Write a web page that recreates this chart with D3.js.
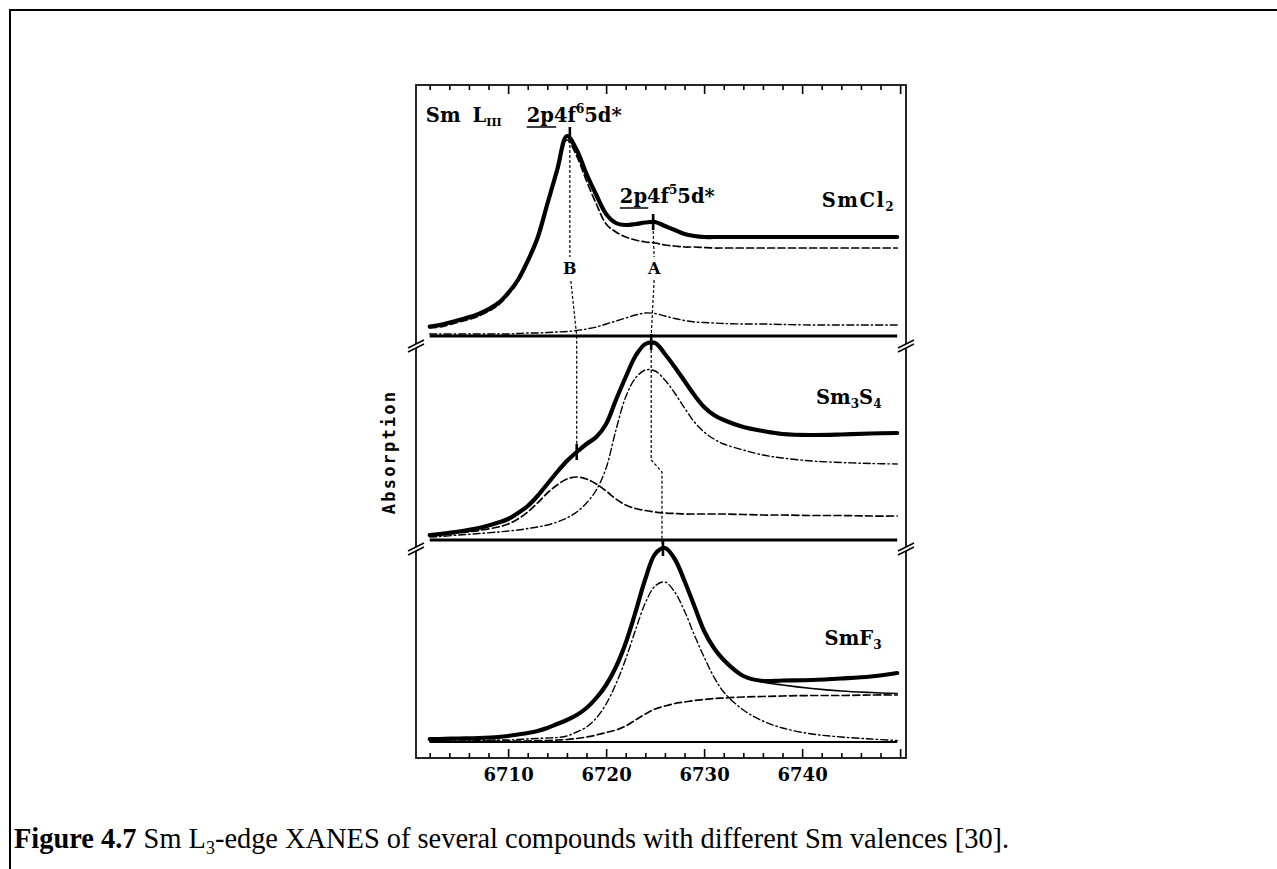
<!DOCTYPE html>
<html>
<head>
<meta charset="utf-8">
<script src="https://cdn.jsdelivr.net/npm/d3@7"></script>
<style>
  html, body { margin: 0; padding: 0; background: #fff; }
  svg { display: block; }
</style>
</head>
<body>
<svg id="fig" width="1277" height="869"></svg>
<script>
// ---- data ---------------------------------------------------------------
// photon energy grid (eV) shared by every spectrum
const energy = [6702, 6703, 6705, 6707, 6709, 6710, 6711, 6712, 6713, 6714, 6715, 6716,
  6717, 6718, 6719, 6720, 6721, 6722, 6723, 6724, 6725, 6726, 6727, 6728, 6729, 6730,
  6731, 6732, 6734, 6736, 6738, 6741, 6744, 6747, 6749.7];

const compounds = ["SmCl2", "Sm3S4", "SmF3"];

// SmCl2: measured spectrum, Sm2+ (4f6) and Sm3+ (4f5) components
const smcl2Total = [0.095, 0.11, 0.16, 0.22, 0.33, 0.43, 0.56, 0.75, 0.98, 1.32, 1.66, 2.00,
  1.86, 1.62, 1.41, 1.22, 1.13, 1.11, 1.12, 1.135, 1.14, 1.10, 1.06, 1.02, 1.00, 0.99,
  0.99, 0.99, 0.99, 0.99, 0.99, 0.99, 0.99, 0.99, 0.99];
const smcl2Sm2 = [0.08, 0.09, 0.14, 0.20, 0.31, 0.41, 0.54, 0.73, 0.96, 1.30, 1.63, 1.96,
  1.80, 1.55, 1.32, 1.12, 1.04, 0.99, 0.96, 0.94, 0.93, 0.91, 0.90, 0.89, 0.89, 0.885,
  0.88, 0.88, 0.88, 0.88, 0.88, 0.88, 0.88, 0.88, 0.88];
const smcl2Sm3 = [0.02, 0.02, 0.02, 0.02, 0.02, 0.02, 0.025, 0.03, 0.03, 0.035, 0.04, 0.045,
  0.055, 0.07, 0.09, 0.12, 0.15, 0.18, 0.21, 0.23, 0.225, 0.20, 0.175, 0.155, 0.14, 0.135,
  0.13, 0.125, 0.12, 0.12, 0.115, 0.11, 0.11, 0.11, 0.11];

// Sm3S4: mixed valence
const sm3s4Total = [0.05, 0.06, 0.085, 0.12, 0.175, 0.21, 0.27, 0.34, 0.44, 0.56, 0.68, 0.79,
  0.88, 0.96, 1.03, 1.16, 1.40, 1.63, 1.84, 1.96, 1.97, 1.86, 1.73, 1.59, 1.45, 1.33,
  1.25, 1.20, 1.13, 1.09, 1.06, 1.05, 1.055, 1.065, 1.07];
const sm3s4Sm3 = [0.03, 0.035, 0.05, 0.065, 0.08, 0.09, 0.10, 0.115, 0.13, 0.15, 0.18, 0.22,
  0.28, 0.37, 0.50, 0.72, 1.10, 1.43, 1.62, 1.70, 1.69, 1.60, 1.47, 1.32, 1.18, 1.08,
  1.01, 0.96, 0.90, 0.85, 0.82, 0.79, 0.775, 0.765, 0.76];
const sm3s4Sm2 = [0.045, 0.05, 0.07, 0.095, 0.13, 0.16, 0.21, 0.28, 0.37, 0.47, 0.55, 0.61,
  0.63, 0.61, 0.56, 0.49, 0.41, 0.35, 0.315, 0.295, 0.28, 0.27, 0.265, 0.26, 0.26, 0.26,
  0.26, 0.26, 0.255, 0.25, 0.25, 0.245, 0.245, 0.24, 0.24];

// SmF3: trivalent reference, white line + edge step, and the summed fit
const smf3Total = [0.03, 0.03, 0.035, 0.04, 0.05, 0.06, 0.075, 0.09, 0.11, 0.14, 0.18, 0.22,
  0.27, 0.34, 0.44, 0.57, 0.75, 0.99, 1.30, 1.63, 1.88, 1.94, 1.83, 1.61, 1.36, 1.11,
  0.94, 0.82, 0.66, 0.61, 0.615, 0.62, 0.635, 0.655, 0.69];
const smf3WhiteLine = [0.01, 0.01, 0.01, 0.015, 0.02, 0.02, 0.025, 0.03, 0.035, 0.04, 0.045, 0.06,
  0.10, 0.15, 0.24, 0.38, 0.58, 0.83, 1.12, 1.39, 1.56, 1.60, 1.50, 1.31, 1.07, 0.85,
  0.65, 0.50, 0.32, 0.21, 0.14, 0.08, 0.05, 0.03, 0.015];
const smf3Step = [0.005, 0.005, 0.005, 0.007, 0.01, 0.01, 0.01, 0.01, 0.012, 0.015, 0.02, 0.025,
  0.035, 0.05, 0.07, 0.095, 0.12, 0.16, 0.22, 0.28, 0.33, 0.36, 0.385, 0.40, 0.415, 0.425,
  0.435, 0.44, 0.45, 0.455, 0.46, 0.465, 0.465, 0.47, 0.47];
const smf3Fit = [0.03, 0.03, 0.035, 0.04, 0.05, 0.06, 0.075, 0.09, 0.11, 0.14, 0.18, 0.22,
  0.27, 0.34, 0.44, 0.57, 0.75, 0.99, 1.30, 1.63, 1.88, 1.94, 1.83, 1.61, 1.36, 1.11,
  0.94, 0.82, 0.66, 0.60, 0.57, 0.535, 0.51, 0.495, 0.485];

// x axis ticks (eV)
const majorTicks = [6710, 6720, 6730, 6740, 6750];
const minorTicks = [6702, 6704, 6706, 6708, 6712, 6714, 6716, 6718, 6722, 6724, 6726, 6728,
  6732, 6734, 6736, 6738, 6742, 6744, 6746, 6748];
const tickLabels = ["6710", "6720", "6730", "6740", ""];

// vertical absorption range shown in each stacked panel
const panelDomains = [[0, 2.51], [0, 2.04], [-0.16, 2.02]];

// markers placed on the spectra at the B (4f6) and A (4f5) features
const featureMarks = [
  { panel: 0, e: 6716.3, v: 2.01 },
  { panel: 0, e: 6724.8, v: 1.14 },
  { panel: 1, e: 6717.0, v: 0.88 },
  { panel: 1, e: 6724.6, v: 1.98 },
  { panel: 2, e: 6725.8, v: 1.94 }
];

// guide lines that follow the B and A features through the panels
const guideB = [
  [{ panel: 0, e: 6716.3, v: 1.96 }, { panel: 0, e: 6716.3, v: 0.79 }],
  [{ panel: 0, e: 6716.4, v: 0.55 }, { panel: 0, e: 6717.0, v: 0.0 }, { panel: 1, e: 6717.0, v: 0.95 }]
];
const guideA = [
  [{ panel: 0, e: 6724.8, v: 1.05 }, { panel: 0, e: 6724.9, v: 0.79 }],
  [{ panel: 0, e: 6724.9, v: 0.56 }, { panel: 0, e: 6724.6, v: 0.0 }, { panel: 1, e: 6724.6, v: 1.9 },
   { panel: 1, e: 6724.6, v: 0.80 }, { panel: 1, e: 6725.7, v: 0.68 }, { panel: 1, e: 6725.7, v: 0.0 },
   { panel: 2, e: 6725.8, v: 1.90 }]
];

// ---- layout -------------------------------------------------------------
const svg = d3.select("#fig");
const plot = { left: 416, right: 906, top: 85, bottom: 758 };
const panelEdges = [85, 336, 540, 758];

const x = d3.scaleLinear().domain([6700.6, 6750.6]).range([plot.left, plot.right]);
const y = panelDomains.map((d, i) =>
  d3.scaleLinear().domain(d).range([panelEdges[i + 1], panelEdges[i]]));

const serif = "'DejaVu Serif', serif";

// page frame
svg.append("path")
  .attr("d", "M10,869 V10 H1277")
  .attr("fill", "none").attr("stroke", "#000").attr("stroke-width", 2);

// plot frame
svg.append("rect")
  .attr("x", plot.left).attr("y", plot.top)
  .attr("width", plot.right - plot.left).attr("height", plot.bottom - plot.top)
  .attr("fill", "none").attr("stroke", "#000").attr("stroke-width", 1.7);

// axes: ticks drawn inward on top and bottom
const gBottom = svg.append("g").attr("transform", `translate(0,${plot.bottom})`)
  .call(d3.axisBottom(x).tickValues(majorTicks).tickSize(-9).tickPadding(10)
    .tickFormat((d, i) => tickLabels[i]));
const gBottomMinor = svg.append("g").attr("transform", `translate(0,${plot.bottom})`)
  .call(d3.axisBottom(x).tickValues(minorTicks).tickSize(-5).tickFormat(""));
const gTop = svg.append("g").attr("transform", `translate(0,${plot.top})`)
  .call(d3.axisTop(x).tickValues(majorTicks).tickSize(-9).tickFormat(""));
const gTopMinor = svg.append("g").attr("transform", `translate(0,${plot.top})`)
  .call(d3.axisTop(x).tickValues(minorTicks).tickSize(-5).tickFormat(""));
[gBottom, gBottomMinor, gTop, gTopMinor].forEach(g => {
  g.select(".domain").remove();
  g.selectAll(".tick line").attr("stroke", "#000").attr("stroke-width", 1.6);
});
gBottom.selectAll(".tick text")
  .attr("font-family", serif).attr("font-weight", "bold")
  .attr("font-size", 18).attr("fill", "#000");

// zero lines separating the stacked spectra
compounds.forEach((c, i) => {
  svg.append("line")
    .attr("x1", x(energy[0])).attr("x2", x(energy[energy.length - 1]))
    .attr("y1", y[i](0)).attr("y2", y[i](0))
    .attr("stroke", "#000").attr("stroke-width", i === 2 ? 2 : 3);
});

// axis break symbols where panels meet
[panelEdges[1] + 10, panelEdges[2] + 9].forEach(py => {
  [plot.left, plot.right].forEach(px => {
    const g = svg.append("g").attr("transform", `translate(${px},${py})`);
    g.append("polygon").attr("points", "-8,2 8,-6 8,-2 -8,6").attr("fill", "#fff");
    g.append("line").attr("x1", -8).attr("y1", 2).attr("x2", 8).attr("y2", -6)
      .attr("stroke", "#000").attr("stroke-width", 1.4);
    g.append("line").attr("x1", -8).attr("y1", 6).attr("x2", 8).attr("y2", -2)
      .attr("stroke", "#000").attr("stroke-width", 1.4);
  });
});

// spectra
const styles = {
  total: { w: 4.2, dash: null },
  sm2: { w: 1.7, dash: "7,3.5" },
  sm3: { w: 1.4, dash: "7,3,1.5,3" },
  fit: { w: 1.6, dash: null }
};
const series = [
  { panel: 0, values: smcl2Sm3, style: "sm3" },
  { panel: 0, values: smcl2Sm2, style: "sm2" },
  { panel: 0, values: smcl2Total, style: "total" },
  { panel: 1, values: sm3s4Sm3, style: "sm3" },
  { panel: 1, values: sm3s4Sm2, style: "sm2" },
  { panel: 1, values: sm3s4Total, style: "total" },
  { panel: 2, values: smf3WhiteLine, style: "sm3" },
  { panel: 2, values: smf3Step, style: "sm2" },
  { panel: 2, values: smf3Fit, style: "fit" },
  { panel: 2, values: smf3Total, style: "total" }
];
series.forEach(s => {
  const ys = y[s.panel];
  const gen = d3.line()
    .x((d, i) => x(energy[i]))
    .y(d => ys(d))
    .curve(d3.curveCatmullRom.alpha(0.5));
  const st = styles[s.style];
  svg.append("path")
    .attr("d", gen(s.values))
    .attr("fill", "none").attr("stroke", "#000")
    .attr("stroke-width", st.w)
    .attr("stroke-linejoin", "round").attr("stroke-linecap", "round")
    .attr("stroke-dasharray", st.dash);
});

// guide lines
const guideLine = d3.line().x(p => x(p.e)).y(p => y[p.panel](p.v));
[...guideB, ...guideA].forEach(seg => {
  svg.append("path").attr("d", guideLine(seg))
    .attr("fill", "none").attr("stroke", "#000")
    .attr("stroke-width", 1.2).attr("stroke-dasharray", "3,2");
});

// feature markers
featureMarks.forEach(m => {
  const cy = y[m.panel](m.v);
  svg.append("line")
    .attr("x1", x(m.e)).attr("x2", x(m.e))
    .attr("y1", cy - 8).attr("y2", cy + 8)
    .attr("stroke", "#000").attr("stroke-width", 2.6);
});

// text labels
function label(panel, e, v, anchor) {
  return svg.append("text")
    .attr("x", x(e)).attr("y", y[panel](v))
    .attr("text-anchor", anchor || "start")
    .attr("font-family", serif).attr("font-weight", "bold")
    .attr("font-size", 19.5).attr("fill", "#000");
}

const t1 = label(0, 6701.6, 2.14);
t1.append("tspan").text("Sm");
t1.append("tspan").attr("dx", 12).text("L");
t1.append("tspan").attr("font-size", 11).attr("dy", 4).text("III");

const t2 = label(0, 6711.9, 2.14);
t2.append("tspan").text("2p4f");
t2.append("tspan").attr("font-size", 12).attr("dy", -9).text("6");
t2.append("tspan").attr("dy", 9).text("5d*");
svg.append("line")
  .attr("x1", x(6711.9)).attr("x2", x(6714.9))
  .attr("y1", y[0](2.09)).attr("y2", y[0](2.09))
  .attr("stroke", "#000").attr("stroke-width", 1.5);

const t3 = label(0, 6721.4, 1.33);
t3.append("tspan").text("2p4f");
t3.append("tspan").attr("font-size", 12).attr("dy", -9).text("5");
t3.append("tspan").attr("dy", 9).text("5d*");
svg.append("line")
  .attr("x1", x(6721.4)).attr("x2", x(6724.3))
  .attr("y1", y[0](1.28)).attr("y2", y[0](1.28))
  .attr("stroke", "#000").attr("stroke-width", 1.5);

const t4 = label(0, 6749.5, 1.29, "end").attr("letter-spacing", 1.5);
t4.append("tspan").text("SmCl");
t4.append("tspan").attr("font-size", 12).attr("dy", 4).text("2");

const t5 = label(1, 6748.1, 1.36, "end");
t5.append("tspan").text("Sm");
t5.append("tspan").attr("font-size", 12).attr("dy", 4).text("3");
t5.append("tspan").attr("dy", -4).text("S");
t5.append("tspan").attr("font-size", 12).attr("dy", 4).text("4");

const t6 = label(2, 6748.1, 0.97, "end");
t6.append("tspan").text("SmF");
t6.append("tspan").attr("font-size", 12).attr("dy", 4).text("3");

label(0, 6716.3, 0.62, "middle").attr("font-size", 16).text("B");
label(0, 6724.9, 0.62, "middle").attr("font-size", 16).text("A");

// y axis title
svg.append("text")
  .attr("transform", `translate(${plot.left - 21},452) rotate(-90)`)
  .attr("text-anchor", "middle")
  .attr("font-family", "'DejaVu Sans Mono', monospace").attr("font-weight", "bold")
  .attr("font-size", 17).attr("letter-spacing", 2.2)
  .text("Absorption");

// caption
const cap = svg.append("text")
  .attr("x", 14).attr("y", 848)
  .attr("font-family", "'Liberation Serif', 'Times New Roman', serif")
  .attr("font-size", 28.4).attr("fill", "#000");
cap.append("tspan").attr("font-weight", "bold").text("Figure 4.7");
cap.append("tspan").text(" Sm L");
cap.append("tspan").attr("font-size", 18).attr("dy", 6).text("3");
cap.append("tspan").attr("dy", -6).text("-edge XANES of several compounds with different Sm valences [30].");
</script>
</body>
</html>
